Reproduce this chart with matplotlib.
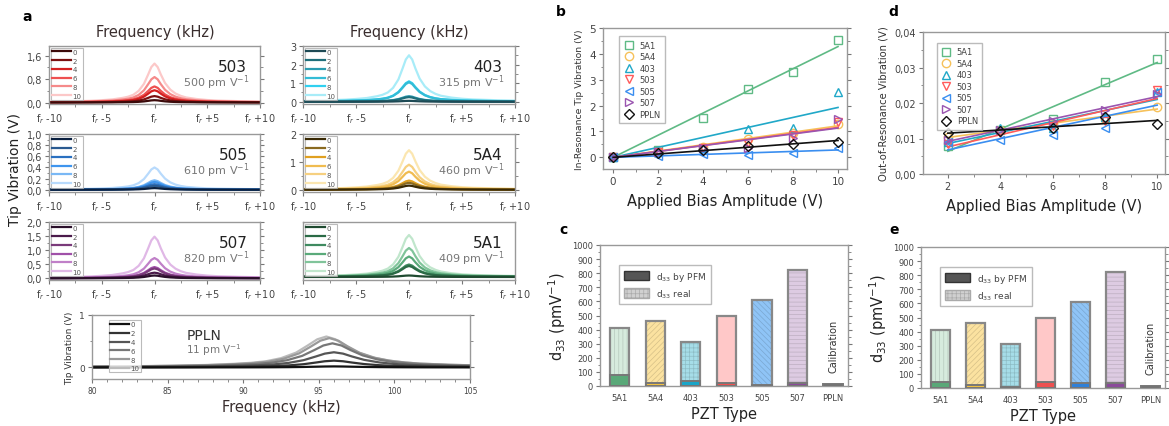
import numpy as np
import matplotlib.pyplot as plt
from matplotlib.colors import to_rgb
from matplotlib.ticker import FuncFormatter, MultipleLocator, AutoMinorLocator
from matplotlib.patches import Patch

W, H = 1169, 427

# ---------------------------------------------------------------- data
bias_levels = ['0', '2', '4', '6', '8', '10']

# resonance shape: offset from f_r (kHz) and fraction of peak
prof_offset = [-10, -8, -6, -5, -4, -3, -2.5, -2, -1.5, -1, -0.6, -0.3, 0,
               0.3, 0.6, 1, 1.5, 2, 2.5, 3, 4, 5, 6, 8, 10]
prof_height = [0.02, 0.03, 0.045, 0.06, 0.08, 0.12, 0.15, 0.2, 0.3, 0.48, 0.72, 0.91, 1.0,
               0.91, 0.72, 0.5, 0.33, 0.23, 0.17, 0.13, 0.09, 0.065, 0.05, 0.035, 0.025]

# peak amplitude (V) for each bias level
peak_503 = [0.08, 0.22, 0.42, 0.55, 0.87, 1.33]
peak_403 = [0.05, 0.25, 0.3, 1.05, 1.1, 2.5]
peak_505 = [0.03, 0.07, 0.1, 0.14, 0.17, 0.4]
peak_5A4 = [0.15, 0.25, 0.33, 0.65, 0.9, 1.42]
peak_507 = [0.1, 0.2, 0.35, 0.4, 0.72, 1.48]
peak_5A1 = [0.15, 1.1, 1.25, 2.05, 2.9, 4.2]
peak_ppln = [0.02, 0.13, 0.29, 0.46, 0.56, 0.59]
center_ppln = [96.0, 96.0, 96.0, 95.9, 95.7, 95.5]

# panel b / d
bias = [0, 2, 4, 6, 8, 10]
inres_5A1 = [0, 0.3, 1.53, 2.65, 3.3, 4.52]
inres_5A4 = [0, 0.2, 0.4, 0.7, 0.95, 1.3]
inres_403 = [0, 0.2, 0.35, 1.08, 1.12, 2.52]
inres_503 = [0, 0.2, 0.35, 0.55, 0.85, 1.35]
inres_505 = [0, 0.05, 0.12, 0.08, 0.18, 0.38]
inres_507 = [0, 0.2, 0.35, 0.35, 0.75, 1.5]
inres_ppln = [0, 0.15, 0.28, 0.45, 0.53, 0.6]

bias_out = [2, 4, 6, 8, 10]
outres_5A1 = [0.008, 0.0125, 0.0155, 0.026, 0.0325]
outres_5A4 = [0.0105, 0.0125, 0.014, 0.0155, 0.019]
outres_403 = [0.009, 0.013, 0.013, 0.016, 0.023]
outres_503 = [0.0085, 0.0115, 0.0135, 0.015, 0.0238]
outres_505 = [0.009, 0.0095, 0.011, 0.013, 0.023]
outres_507 = [0.0095, 0.0125, 0.015, 0.018, 0.0225]
outres_ppln = [0.0115, 0.012, 0.013, 0.016, 0.014]

# panel c / e
pzt_types = ['5A1', '5A4', '403', '503', '505', '507', 'PPLN']
d33_real = [409, 460, 315, 500, 610, 820]
d33_pfm_c = [75, 22, 35, 20, 5, 20, 11]
d33_pfm_e = [45, 20, 10, 45, 35, 35, 11]

samples = ['5A1', '5A4', '403', '503', '505', '507', 'PPLN']
markers = ['s', 'o', '^', 'v', '<', '>', 'D']
scol = ['#5fba85', '#f6c15a', '#20a8c8', '#ff5a5a', '#3a8ef0', '#9a55b0', '#111111']
real_fill = ['#d6ebdd', '#fbe2a0', '#a6dde8', '#ffc8c8', '#8fc4f6', '#ddcbe2']
real_hatch = ['||||', '//////', '++++', '', '\\\\\\\\\\\\', '----']
pfm_fill = ['#5aa878', '#f0c040', '#1aa5c8', '#ee5050', '#2f80d8', '#8a4a9a', '#111111']

SP = '#999999'
plt.rcParams['hatch.linewidth'] = 0.5


def px_axes(fig, x0, y0, x1, y1):
    return fig.add_axes([x0 / W, 1 - y1 / H, (x1 - x0) / W, (y1 - y0) / H])


def comma(fmt):
    return FuncFormatter(lambda v, p: (fmt % v).replace('.', ','))


def style(ax, fs=7):
    for s in ax.spines.values():
        s.set_color(SP)
        s.set_linewidth(1.0)
    ax.tick_params(which='both', colors='#777777', labelcolor='#444444',
                   labelsize=fs, right=True, direction='out', pad=2)
    ax.tick_params(which='major', length=3)
    ax.tick_params(which='minor', length=1.8)


def small_legend(ax, handles, **kw):
    leg = ax.legend(handles=handles, loc='upper left', fontsize=5, handlelength=2.8,
                    labelspacing=0.4, borderpad=0.15, handletextpad=0.2,
                    fancybox=False, **kw)
    leg.get_frame().set_edgecolor('#aaaaaa')
    leg.get_frame().set_linewidth(0.8)
    for t in leg.get_texts():
        t.set_color('#555555')


def resonance(ax, peaks, colors, name, d33, ylim, ystep, yfmt):
    off = np.array(prof_offset)
    prof = np.array(prof_height)
    lines = []
    for lv, pk, c in reversed(list(zip(bias_levels, peaks, colors))):
        ln, = ax.plot(off, pk * prof, color=c, lw=1.6, label=lv)
        lines.append(ln)
    ax.set_xlim(-10, 10)
    ax.set_ylim(*ylim)
    ax.set_xticks([-10, -5, 0, 5, 10])
    ax.set_xticklabels([r'f$_r$ -10', r'f$_r$ -5', r'f$_r$', r'f$_r$ +5', r'f$_r$ +10'])
    ax.xaxis.set_minor_locator(AutoMinorLocator(2))
    style(ax, 7)
    if ystep is None:
        ax.set_yticks([])
    else:
        ax.yaxis.set_major_locator(MultipleLocator(ystep))
        ax.yaxis.set_minor_locator(AutoMinorLocator(2))
        ax.yaxis.set_major_formatter(comma(yfmt))
    small_legend(ax, lines[::-1], borderaxespad=0.25)
    ax.text(0.94, 0.65, name, transform=ax.transAxes, ha='right', va='center',
            fontsize=11, color='#222222')
    ax.text(0.95, 0.38, d33 + r' pm V$^{-1}$', transform=ax.transAxes,
            ha='right', va='center', fontsize=8, color='#777777')


fig = plt.figure(figsize=(W / 100, H / 100), dpi=100)

# ---------------------------------------------------------------- panel a
cols = [(49, 260), (303, 515)]
rows = [(47, 105), (135, 193), (223, 281)]

resonance(px_axes(fig, cols[0][0], rows[0][0], cols[0][1], rows[0][1]), peak_503,
          ['#3b0a0a', '#7a1010', '#d42020', '#ee5050', '#f58a8a', '#fcc8c8'],
          '503', '500', (-0.05, 1.93), 0.8, '%.1f')
resonance(px_axes(fig, cols[1][0], rows[0][0], cols[1][1], rows[0][1]), peak_403,
          ['#1e4a55', '#1f6e7a', '#2a9bb0', '#33bcd6', '#30d0f0', '#a8ecf8'],
          '403', '315', (-0.12, 3.0), 1, '%.0f')
resonance(px_axes(fig, cols[0][0], rows[1][0], cols[0][1], rows[1][1]), peak_505,
          ['#0a2040', '#2a5a90', '#2a70c0', '#3f95ee', '#7ab8f5', '#b8dafc'],
          '505', '610', (-0.04, 1.0), 0.2, '%.1f')
resonance(px_axes(fig, cols[1][0], rows[1][0], cols[1][1], rows[1][1]), peak_5A4,
          ['#3a2a05', '#8a6a20', '#e0a020', '#f0bc50', '#f6d080', '#fbe6b0'],
          '5A4', '460', (-0.08, 2.0), 1, '%.0f')
resonance(px_axes(fig, cols[0][0], rows[2][0], cols[0][1], rows[2][1]), peak_507,
          ['#2a0f2a', '#4a1a4a', '#7a3a7a', '#a050a8', '#c080c8', '#e0b8e6'],
          '507', '820', (-0.06, 2.0), 0.5, '%.1f')
resonance(px_axes(fig, cols[1][0], rows[2][0], cols[1][1], rows[2][1]), peak_5A1,
          ['#1f4a30', '#2a6a45', '#3f8a60', '#5aaa7a', '#80c49a', '#c0e6cc'],
          '5A1', '409', (-0.3, 5.5), None, None)

fig.text(155 / W, 1 - 32 / H, 'Frequency (kHz)', ha='center', va='center',
         fontsize=10.5, color='#3a2e2e')
fig.text(409 / W, 1 - 32 / H, 'Frequency (kHz)', ha='center', va='center',
         fontsize=10.5, color='#3a2e2e')
fig.text(15 / W, 1 - 170 / H, 'Tip Vibration (V)', rotation=90, ha='center',
         va='center', fontsize=10, color='#222222')

# PPLN
ax = px_axes(fig, 92, 316, 470, 380)
prof = np.array(prof_height)
lines = []
grays = ['#111111', '#333333', '#555555', '#777777', '#999999', '#bbbbbb']
for lv, pk, fc, c in reversed(list(zip(bias_levels, peak_ppln, center_ppln, grays))):
    ln, = ax.plot(fc + np.array(prof_offset) * 2.0, pk * prof, color=c, lw=1.6, label=lv)
    lines.append(ln)
ax.set_xlim(80, 105)
ax.set_ylim(-0.22, 1.0)
ax.set_yticks([0, 1])
ax.xaxis.set_major_locator(MultipleLocator(5))
ax.xaxis.set_minor_locator(AutoMinorLocator(5))
ax.yaxis.set_minor_locator(AutoMinorLocator(2))
style(ax, 5.5)
ax.tick_params(axis='y', labelsize=6.5)
small_legend(ax, lines[::-1], bbox_to_anchor=(0.035, 0.97))
ax.text(0.25, 0.68, 'PPLN', transform=ax.transAxes, fontsize=10, color='#333333',
        va='center')
ax.text(0.25, 0.47, r'11 pm V$^{-1}$', transform=ax.transAxes, fontsize=7.5,
        color='#777777', va='center')
ax.set_ylabel('Tip Vibration (V)', fontsize=6.5, color='#333333', labelpad=4)
ax.set_xlabel('Frequency (kHz)', fontsize=10.5, color='#3a2e2e', labelpad=3)

fig.text(22 / W, 1 - 17 / H, 'a', fontsize=10, fontweight='bold', va='center')


# ---------------------------------------------------------------- panels b, d
def scatter_legend(ax, handles, anchor):
    leg = ax.legend(handles=handles, loc='upper left', fontsize=6, labelspacing=0.3,
                    borderpad=0.5, handletextpad=0.7, handlelength=1.2,
                    fancybox=False, bbox_to_anchor=anchor)
    leg.get_frame().set_edgecolor('#aaaaaa')
    for t in leg.get_texts():
        t.set_color('#444444')


inres = [inres_5A1, inres_5A4, inres_403, inres_503, inres_505, inres_507, inres_ppln]
ax = px_axes(fig, 603, 29, 847, 170)
x = np.array(bias, dtype=float)
handles = []
for lab, m, c, y in zip(samples, markers, scol, inres):
    y = np.array(y)
    slope = (x @ y) / (x @ x)
    xx = np.array([0, 10])
    ax.plot(xx, slope * xx, color=c, lw=1.2)
    h, = ax.plot(x, y, ls='none', marker=m, mfc='none', mec=c, mew=1.0,
                 ms=6 if m != 'D' else 5.5, label=lab)
    handles.append(h)
ax.set_xlim(-0.45, 10.4)
ax.set_ylim(-0.45, 5)
ax.xaxis.set_major_locator(MultipleLocator(2))
ax.xaxis.set_minor_locator(AutoMinorLocator(2))
ax.yaxis.set_major_locator(MultipleLocator(1))
ax.yaxis.set_minor_locator(AutoMinorLocator(2))
style(ax, 7.5)
ax.set_ylabel('In-Resonance Tip Vibration (V)', fontsize=6.7, color='#333333', labelpad=4)
ax.set_xlabel('Applied Bias Amplitude (V)', fontsize=10.5, color='#222222', labelpad=5)
scatter_legend(ax, handles, (0.05, 0.97))
fig.text(556 / W, 1 - 12 / H, 'b', fontsize=10, fontweight='bold', va='center')

outres = [outres_5A1, outres_5A4, outres_403, outres_503, outres_505, outres_507, outres_ppln]
ax = px_axes(fig, 923, 33, 1165, 175)
x = np.array(bias_out, dtype=float)
handles = []
for lab, m, c, y in zip(samples, markers, scol, outres):
    k, b = np.polyfit(x, y, 1)
    xx = np.array([2, 10])
    ax.plot(xx, k * xx + b, color=c, lw=1.2)
    h, = ax.plot(x, y, ls='none', marker=m, mfc='none', mec=c, mew=1.0,
                 ms=6 if m != 'D' else 5.5, label=lab)
    handles.append(h)
ax.set_xlim(1.05, 10.3)
ax.set_ylim(0, 0.04)
ax.xaxis.set_major_locator(MultipleLocator(2))
ax.xaxis.set_minor_locator(AutoMinorLocator(2))
ax.yaxis.set_major_locator(MultipleLocator(0.01))
ax.yaxis.set_minor_locator(AutoMinorLocator(2))
ax.yaxis.set_major_formatter(comma('%.2f'))
style(ax, 7)
ax.set_ylabel('Out-of-Resonance Vibration (V)', fontsize=7.2, color='#333333', labelpad=4)
ax.set_xlabel('Applied Bias Amplitude (V)', fontsize=10.5, color='#222222', labelpad=5)
scatter_legend(ax, handles, (0.04, 0.95))
fig.text(888 / W, 1 - 12 / H, 'd', fontsize=10, fontweight='bold', va='center')


# ---------------------------------------------------------------- panels c, e
def bars(ax, pfm):
    pos = np.arange(len(pzt_types))
    for i, v in enumerate(d33_real):
        hc = tuple(ch * 0.85 for ch in to_rgb(real_fill[i]))
        ax.bar(pos[i], v, width=0.54, color=real_fill[i], hatch=real_hatch[i],
               edgecolor=hc, linewidth=0, zorder=1)
        ax.bar(pos[i], v, width=0.54, fill=False, edgecolor='#888888',
               linewidth=1.6, zorder=2)
    ax.bar(pos, pfm, width=0.54, color=pfm_fill, edgecolor='#777777',
           linewidth=1.4, zorder=3)
    ax.text(pos[-1], 100, 'Calibration', rotation=90, ha='center', va='bottom',
            fontsize=7, color='#333333')
    ax.set_xlim(-0.55, 6.42)
    ax.set_ylim(0, 1000)
    ax.set_xticks(pos)
    ax.set_xticklabels(pzt_types)
    ax.yaxis.set_major_locator(MultipleLocator(100))
    ax.yaxis.set_minor_locator(AutoMinorLocator(2))
    style(ax, 6)
    ax.tick_params(axis='x', which='both', bottom=False)
    ax.set_ylabel(r'd$_{33}$ (pmV$^{-1}$)', fontsize=10.5, color='#222222', labelpad=3)
    ax.set_xlabel('PZT Type', fontsize=10.5, color='#222222', labelpad=3)
    hl = [Patch(facecolor='#555555', edgecolor='#333333'),
          Patch(facecolor='#d0d0d0', edgecolor='#aaaaaa', hatch='++++')]
    leg = ax.legend(hl, [r'd$_{33}$ by PFM', r'd$_{33}$ real'], loc='upper left',
                    fontsize=6.5, handlelength=2.8, handleheight=1.3,
                    labelspacing=0.5, borderpad=0.5, fancybox=False,
                    bbox_to_anchor=(0.06, 0.89))
    leg.get_frame().set_edgecolor('#aaaaaa')
    for t in leg.get_texts():
        t.set_color('#444444')


ax = px_axes(fig, 600, 246, 848, 387)
bars(ax, d33_pfm_c)
fig.text(559 / W, 1 - 230 / H, 'c', fontsize=10, fontweight='bold', va='center')

ax = px_axes(fig, 921, 248, 1165, 389)
bars(ax, d33_pfm_e)
fig.text(889 / W, 1 - 230 / H, 'e', fontsize=10, fontweight='bold', va='center')

fig.savefig('out.png', dpi=100)
